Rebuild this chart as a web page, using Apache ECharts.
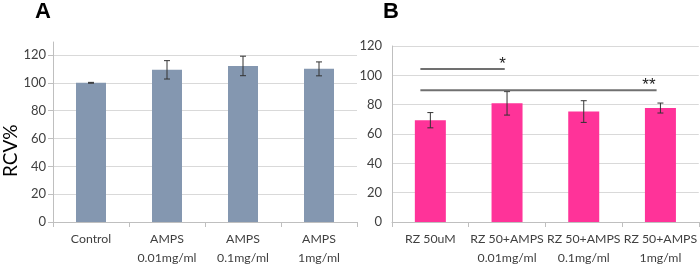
<!DOCTYPE html>
<html>
<head>
<meta charset="utf-8">
<script src="https://cdn.jsdelivr.net/npm/echarts@6/dist/echarts.min.js"></script>
<style>
  html, body { margin: 0; padding: 0; background: #fff; }
  #chart { width: 700px; height: 268px; }
</style>
</head>
<body>
<div id="chart"></div>
<script>
// panel A
const catsA = ['Control', 'AMPS\n0.01mg/ml', 'AMPS\n0.1mg/ml', 'AMPS\n1mg/ml'];
const meanA = [100, 109.3, 112.1, 110];
const errA = [0.3, 6.6, 7, 5];
// panel B
const catsB = ['RZ 50uM', 'RZ 50+AMPS\n0.01mg/ml', 'RZ 50+AMPS\n0.1mg/ml', 'RZ 50+AMPS\n1mg/ml'];
const meanB = [69.4, 80.9, 75.3, 77.7];
const errB = [5.2, 8, 7.4, 3.4];
// y ticks
const yTicks = [0, 20, 40, 60, 80, 100, 120];
// significance brackets on B: [from, to] in category units, y value, label, label x, label y
const sigFrom = [-0.13, -0.13];
const sigTo = [0.97, 2.95];
const sigY = [104.3, 89.9];
const sigText = ['*', '**'];
const sigTextX = [0.94, 2.85];
const sigTextY = [107.5, 93];

const FONT = 'Lato';
const TXT = '#404040';
const GRIDC = '#d9d9d9';
const AXC = '#bfbfbf';

const chart = echarts.init(document.getElementById('chart'));

// error bar drawing (custom series)
function errRender(means, errs) {
  return function (params, api) {
    const i = api.value(0);
    const top = api.coord([i, means[i] + errs[i]]);
    const bot = api.coord([i, means[i] - errs[i]]);
    const cap = 3;
    const style = { stroke: '#333', lineWidth: 1 };
    return {
      type: 'group',
      children: [
        { type: 'line', shape: { x1: top[0], y1: top[1], x2: bot[0], y2: bot[1] }, style },
        { type: 'line', shape: { x1: top[0] - cap, y1: top[1], x2: top[0] + cap, y2: top[1] }, style },
        { type: 'line', shape: { x1: bot[0] - cap, y1: bot[1], x2: bot[0] + cap, y2: bot[1] }, style }
      ]
    };
  };
}

const catAxis = (cats, gridIndex) => ({
  type: 'category',
  gridIndex,
  data: cats,
  axisLine: { lineStyle: { color: AXC } },
  axisTick: { show: true, length: 5, lineStyle: { color: AXC } },
  axisLabel: { color: TXT, fontFamily: FONT, fontSize: 12.3, lineHeight: 19, margin: 8, interval: 0, hideOverlap: false }
});

const valAxis = (gridIndex, max, showTick) => ({
  type: 'value',
  gridIndex,
  min: 0,
  max,
  interval: 20,
  axisLine: { show: true, onZero: false, lineStyle: { color: AXC } },
  axisTick: { show: showTick, length: 5, lineStyle: { color: AXC }, customValues: yTicks },
  axisLabel: { color: TXT, fontFamily: FONT, fontSize: 13, margin: showTick ? 7 : 10, customValues: yTicks },
  splitLine: { lineStyle: { color: [GRIDC, GRIDC, GRIDC, GRIDC, GRIDC, GRIDC, GRIDC, 'transparent'] } }
});

const option = {
  animation: false,
  textStyle: { fontFamily: FONT },
  grid: [
    { left: 53, right: 343, top: 42, bottom: 45 },
    { left: 392, right: 0, top: 46, bottom: 44 }
  ],
  xAxis: [
    catAxis(catsA, 0),
    catAxis(catsB, 1),
    { type: 'value', gridIndex: 1, min: -0.5, max: 3.5, show: false }
  ],
  yAxis: [
    valAxis(0, 129.3, true),
    valAxis(1, 120, false)
  ],
  graphic: [
    { type: 'text', left: 35, top: 1, style: { text: 'A', font: 'bold 22px "Liberation Sans"', fill: '#000' } },
    { type: 'text', left: 383, top: 1, style: { text: 'B', font: 'bold 22px "Liberation Sans"', fill: '#000' } },
    { type: 'text', x: 1, y: 177, rotation: Math.PI / 2, style: { text: 'RCV%', font: '19px Lato', fill: '#000', align: 'left', verticalAlign: 'top' } }
  ],
  series: [
    {
      type: 'bar', xAxisIndex: 0, yAxisIndex: 0, data: meanA,
      barWidth: 30, itemStyle: { color: '#8497b0' }
    },
    {
      type: 'custom', xAxisIndex: 0, yAxisIndex: 0,
      data: meanA.map((v, i) => [i, v]),
      renderItem: errRender(meanA, errA), z: 5
    },
    {
      type: 'bar', xAxisIndex: 1, yAxisIndex: 1, data: meanB,
      barWidth: 31, itemStyle: { color: '#ff3399' }
    },
    {
      type: 'custom', xAxisIndex: 1, yAxisIndex: 1,
      data: meanB.map((v, i) => [i, v]),
      renderItem: errRender(meanB, errB), z: 5
    },
    {
      type: 'custom', xAxisIndex: 2, yAxisIndex: 1,
      data: sigY.map((y, i) => [sigFrom[i], sigTo[i], y, sigTextX[i], sigTextY[i]]),
      renderItem: function (params, api) {
        const i = params.dataIndex;
        const a = api.coord([api.value(0), api.value(2)]);
        const b = api.coord([api.value(1), api.value(2)]);
        const t = api.coord([api.value(3), api.value(4)]);
        return {
          type: 'group',
          children: [
            { type: 'line', shape: { x1: a[0], y1: a[1], x2: b[0], y2: b[1] }, style: { stroke: '#707070', lineWidth: 2 } },
            { type: 'text', x: t[0], y: t[1], style: { text: sigText[i], font: '17px "Liberation Sans"', fill: '#222', align: 'center', verticalAlign: 'middle' } }
          ]
        };
      },
      z: 6
    }
  ]
};

chart.setOption(option);
</script>
</body>
</html>
